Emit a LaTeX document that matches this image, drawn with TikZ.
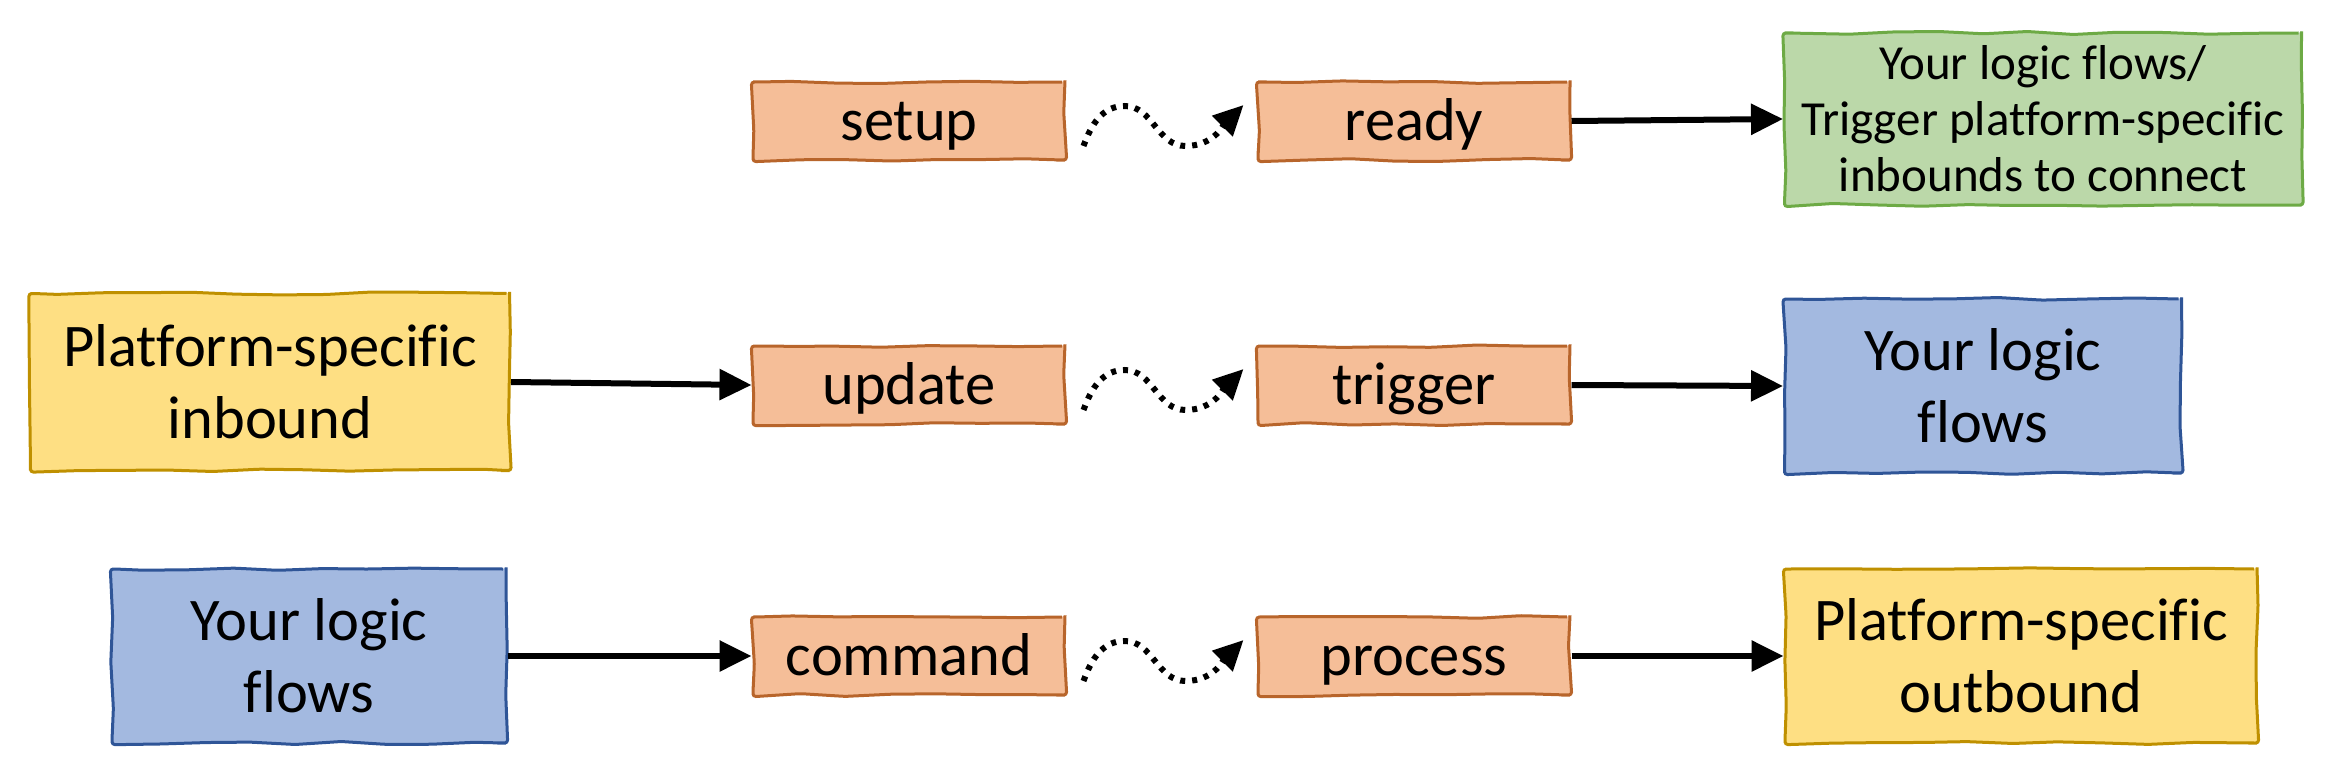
\documentclass[tikz,border=0pt]{standalone}
\usepackage{fontspec}
\setmainfont{Carlito}[Ligatures=NoCommon]
\usetikzlibrary{arrows.meta,decorations.pathmorphing,calc}
\definecolor{orF}{HTML}{F5BE98}
\definecolor{orD}{HTML}{B8652B}
\definecolor{grF}{HTML}{BBD8A9}
\definecolor{grD}{HTML}{6DAA45}
\definecolor{yeF}{HTML}{FEDF83}
\definecolor{yeD}{HTML}{BF9000}
\definecolor{blF}{HTML}{A3B9E0}
\definecolor{blD}{HTML}{2F5597}
\pgfmathsetseed{7}
\tikzset{
  sk/.style={draw, line width=3pt, decorate,
    decoration={random steps,segment length=45pt,amplitude=1.5pt},
    rounded corners=3pt, inner sep=0pt, align=center,
    font=\fontsize{60.5}{72}\selectfont},
  ev/.style={sk, fill=orF, draw=orD, minimum width=312pt, minimum height=78pt,
    text height=46pt, text depth=8pt},
  grbox/.style={sk, fill=grF, draw=grD, font=\fontsize{49}{56}\selectfont},
  yebox/.style={sk, fill=yeF, draw=yeD},
  blbox/.style={sk, fill=blF, draw=blD},
  ar/.style={line width=6pt, -{Triangle[length=32pt,width=30pt]}},
  sq/.style={line width=6pt, dash pattern=on 5pt off 7pt, line cap=butt,
    -{Triangle[length=30pt,width=28pt]}}
}
\begin{document}
\begin{tikzpicture}[x=1pt,y=-1pt]
\useasboundingbox (0,0) rectangle (2348,776);
% row 1
\node[ev] (setup) at (909,121) {setup};
\node[ev] (ready) at (1414,121) {ready};
\node[grbox, minimum width=517pt, minimum height=172pt] (green) at (2043,119)
  {Your logic flows/\\Trigger platform-specific\\inbounds to connect};
% row 2
\node[yebox, minimum width=479pt, minimum height=177pt] (pin) at (270,382)
  {Platform-specific\\inbound};
\node[ev] (update) at (909,385) {update};
\node[ev] (trigger) at (1414,385) {trigger};
\node[blbox, minimum width=397pt, minimum height=174pt] (ylf1) at (1983,386)
  {Your logic\\flows};
% row 3
\node[blbox, minimum width=394pt, minimum height=174pt] (ylf2) at (309,656)
  {Your logic\\flows};
\node[ev] (command) at (909,656) {command};
\node[ev] (process) at (1414,656) {process};
\node[yebox, minimum width=472pt, minimum height=174pt] (pout) at (2021,656)
  {Platform-specific\\outbound};
% solid arrows
\draw[ar] (ready.east) -- (green.west);
\draw[ar] (pin.east) -- (update.west);
\draw[ar] (trigger.east) -- (ylf1.west);
\draw[ar] (ylf2.east) -- (command.west);
\draw[ar] (process.east) -- (pout.west);
% dotted squiggles
\foreach \a/\b in {setup/ready, update/trigger, command/process}{
  \draw[sq] ([shift={(17,25)}]\a.east) to[out=70,in=180] ++(41,-40)
    to[out=0,in=180] ++(61,40) to[out=0,in=225] ([shift={(-13,-16)}]\b.west);
}
\end{tikzpicture}
\end{document}
